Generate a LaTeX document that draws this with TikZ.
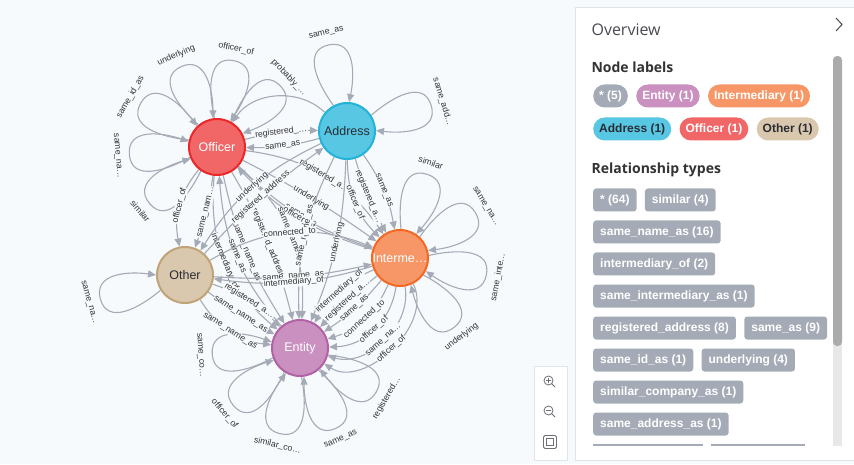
\documentclass[tikz,border=0pt]{standalone}
\usepackage{fontspec}
\setmainfont{Liberation Sans}
\newfontfamily\uifont{Open Sans}
\usepackage{xcolor}
\usepackage{tikz}
\usetikzlibrary{arrows.meta, positioning, calc}

\definecolor{canvas}{HTML}{F7FAFD}
\definecolor{relgray}{HTML}{A5ABB6}
\definecolor{officerfill}{HTML}{F16667}
\definecolor{officerline}{HTML}{EB2728}
\definecolor{addressfill}{HTML}{57C7E3}
\definecolor{addressline}{HTML}{23B3D7}
\definecolor{interfill}{HTML}{F79767}
\definecolor{interline}{HTML}{F36924}
\definecolor{otherfill}{HTML}{D9C8AE}
\definecolor{otherline}{HTML}{C0A378}
\definecolor{entityfill}{HTML}{C990C0}
\definecolor{entityline}{HTML}{B261A5}
\definecolor{captiondark}{HTML}{2A2C34}
\definecolor{panelline}{HTML}{E1E5EA}
\definecolor{headtext}{HTML}{4A4A52}
\definecolor{icongray}{HTML}{6E6E75}

\pgfdeclarelayer{bg}
\pgfdeclarelayer{edges}
\pgfsetlayers{bg,edges,main}

\tikzset{
  gnode/.style={circle, minimum size=56pt, inner sep=0pt, line width=2pt, font=\fontsize{12.5}{14}\selectfont},
  rel/.style={draw=relgray, line width=1.1pt, -{Triangle[length=8pt,width=7pt]}},
  rellabel/.style={font=\fontsize{8.7}{10}\selectfont, text=black!80, fill=canvas, inner sep=0.6pt, sloped},
  looplabel/.style={font=\fontsize{8.7}{10}\selectfont, text=black!80, inner sep=1pt},
  lpill/.style={rounded corners=11.5pt, minimum height=23pt, inner xsep=6pt, inner ysep=0pt, font=\bfseries\fontsize{12}{14}\selectfont, text=white, anchor=west},
  rpill/.style={fill=relgray, rounded corners=3pt, minimum height=23pt, inner xsep=7pt, inner ysep=0pt, font=\bfseries\fontsize{12}{14}\selectfont, text=white, anchor=west},
  heading/.style={anchor=west, font=\uifont\bfseries\fontsize{14}{16}\selectfont, text=black!80},
}

\begin{document}
\begin{tikzpicture}[x=1pt,y=1pt]
    \useasboundingbox (0,0) rectangle (854,464);
    \begin{pgfonlayer}{bg}
    \fill[canvas] (0,0) rectangle (854,464);
    \end{pgfonlayer}

    % graph nodes
    \node[gnode, fill=officerfill, draw=officerline, text=white] (officer) at (217,317) {Officer};
    \node[gnode, fill=addressfill, draw=addressline, text=captiondark] (address) at (347,333) {Address};
    \node[gnode, fill=interfill, draw=interline, text=white] (inter) at (400,206) {Interme…};
    \node[gnode, fill=otherfill, draw=otherline, text=captiondark] (other) at (185,189) {Other};
    \node[gnode, fill=entityfill, draw=entityline, text=white] (entity) at (300,116) {Entity};

    \begin{pgfonlayer}{edges}
    % self loops
    \foreach \n/\a/\t in {officer/220/similar, officer/185/same\_na…, officer/150/same\_id\_as,
        officer/114/underlying, officer/79/officer\_of, officer/44/probably\_…,
        address/102/same\_as, address/17/same\_add…,
        inter/72/similar, inter/31/same\_na…, inter/349/same\_inte…, inter/308/underlying,
        other/196/same\_na…,
        entity/184/same\_co…, entity/221/officer\_of, entity/257/similar\_co…,
        entity/294/same\_as, entity/330/registered…}
    {
        \pgfmathtruncatemacro\aup{\a+16}
        \pgfmathtruncatemacro\adn{\a-16}
        \pgfmathsetmacro\rot{\a<181 ? \a-90 : \a-270}
        \coordinate (tip) at ($(\n)+(\a:88)$);
        \draw[rel] (\n.\aup) to[out=\a+24, in=\a+90, looseness=1.15] (tip)
            to[out=\a-90, in=\a-24, looseness=1.15] (\n.\adn);
        \node[looplabel, rotate=\rot] at ($(\n)+(\a:100)$) {\t};
    }

    % relationships between nodes
    \foreach \s/\e/\b/\l in {officer/address/8/registered\_…, address/officer/8/same\_as,
        officer/inter/4/underlying, officer/inter/-12/same\_as, inter/officer/14/officer\_of,
        officer/inter/24/registered\_a…,
        officer/entity/-10/same\_name\_as, officer/entity/8/registered\_address,
        officer/entity/-28/intermediary\_of, entity/officer/18/same\_as, officer/entity/26/same\_name…,
        officer/other/-25/officer\_of, officer/other/6/same\_nam…,
        address/inter/12/same\_as, address/inter/-6/registered\_a…, address/inter/-22/officer\_of,
        address/entity/10/underlying, address/entity/-14/same\_name\_as,
        other/address/6/registered\_address, address/other/-16/underlying,
        inter/entity/8/same\_as, inter/entity/-4/registered\_a…, inter/entity/-18/intermediary\_of,
        inter/entity/24/connected\_to, inter/entity/40/officer\_of, inter/entity/58/same\_na…,
        inter/entity/75/officer\_of,
        other/inter/-8/same\_name\_as, inter/other/12/intermediary\_of, other/inter/26/connected\_to,
        other/entity/14/registered\_a…, other/entity/-4/same\_name\_as, other/entity/-26/same\_name\_as}
    {
        \draw[rel] (\s) to[bend left=\b] node[rellabel] {\l} (\e);
    }
    \draw[rel] (address.140) to[bend right=50] (officer.58);
    \end{pgfonlayer}

    % overview panel
    \draw[panelline, fill=white] (854,457) -- (575,457) -- (575,4) -- (854,4);
    \node[anchor=west, font=\uifont\fontsize{16}{18}\selectfont, text=headtext] (overview) at (588,434) {Overview};
    \draw[headtext, line width=1pt] (836,446) -- (842,439.5) -- (836,433);
    \fill[black!9] (833,18) rectangle (842,404);
    \fill[black!33, rounded corners=4pt] (833,118) rectangle (842,408);

    \node[heading] (nodehead) at (588,397) {Node labels};
    \node[lpill, fill=relgray] (pall) at (593,368) {* (5)};
    \node[lpill, fill=entityfill, right=8pt of pall] (pentity) {Entity (1)};
    \node[lpill, fill=interfill, right=8pt of pentity] (pinter) {Intermediary (1)};
    \node[lpill, fill=addressfill, text=captiondark] (paddress) at (593,335) {Address (1)};
    \node[lpill, fill=officerfill, right=8pt of paddress] (pofficer) {Officer (1)};
    \node[lpill, fill=otherfill, text=captiondark, right=8pt of pofficer] (pother) {Other (1)};

    \node[heading] (relhead) at (588,294) {Relationship types};
    \node[rpill] (rall) at (593,264) {* (64)};
    \node[rpill, right=8pt of rall] (rsimilar) {similar (4)};
    \node[rpill] (rsamename) at (593,232) {same\_name\_as (16)};
    \node[rpill] (rinterof) at (593,200) {intermediary\_of (2)};
    \node[rpill] (rsameinter) at (593,168) {same\_intermediary\_as (1)};
    \node[rpill] (rregaddr) at (593,136) {registered\_address (8)};
    \node[rpill, right=8pt of rregaddr] (rsameas) {same\_as (9)};
    \node[rpill] (rsameid) at (593,104) {same\_id\_as (1)};
    \node[rpill, right=8pt of rsameid] (runder) {underlying (4)};
    \node[rpill] (rsimcomp) at (593,72) {similar\_company\_as (1)};
    \node[rpill] (rsameaddr) at (593,40) {same\_address\_as (1)};
    \fill[relgray] (593,18) rectangle (703,20.5);
    \fill[relgray] (711,18) rectangle (805,20.5);

    % zoom buttons
    \draw[panelline, fill=white] (534,4) rectangle (567,98);
    \draw[icongray, line width=0.8pt] (548.5,83.5) circle (4.5) (551.8,80.2) -- (555,77)
        (546,83.5) -- (551,83.5) (548.5,81) -- (548.5,86);
    \draw[icongray, line width=0.8pt] (548.5,53.5) circle (4.5) (551.8,50.2) -- (555,47)
        (546,53.5) -- (551,53.5);
    \draw[icongray, line width=0.8pt, rounded corners=1.5pt] (543.5,15.5) rectangle (556.5,28.5);
    \draw[icongray, line width=0.8pt] (546.5,18.5) rectangle (553.5,25.5);
\end{tikzpicture}
\end{document}
